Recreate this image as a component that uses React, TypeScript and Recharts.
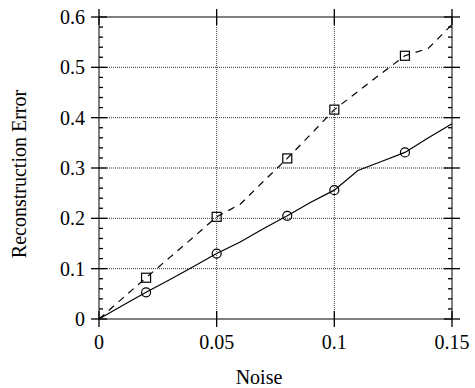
import React from 'react';
import { LineChart, Line, XAxis, YAxis, CartesianGrid } from 'recharts';

// noise level (x) and reconstruction error of the two series
const noise = [0, 0.01, 0.02, 0.03, 0.04, 0.05, 0.06, 0.07, 0.08, 0.09, 0.1, 0.11, 0.12, 0.13, 0.14, 0.15];
const circleErr = [0, 0.027, 0.053, 0.078, 0.104, 0.13, 0.153, 0.18, 0.205, 0.232, 0.256, 0.295, 0.313, 0.331, 0.36, 0.388];
const squareErr = [0, 0.041, 0.082, 0.122, 0.162, 0.203, 0.228, 0.274, 0.319, 0.367, 0.416, 0.452, 0.488, 0.523, 0.538, 0.585];
const markerNoise = [0.02, 0.05, 0.08, 0.1, 0.13];

const xTicks = [0, 0.05, 0.1, 0.15];
const yTicks = [0, 0.02, 0.04, 0.06, 0.08, 0.1, 0.12, 0.14, 0.16, 0.18, 0.2, 0.22, 0.24, 0.26, 0.28, 0.3,
  0.32, 0.34, 0.36, 0.38, 0.4, 0.42, 0.44, 0.46, 0.48, 0.5, 0.52, 0.54, 0.56, 0.58, 0.6];
const xGrid = [0.05, 0.1];
const yGrid = [0.1, 0.2, 0.3, 0.4, 0.5];

const data = noise.map((n, i) => ({ noise: n, circle: circleErr[i], square: squareErr[i] }));

const FONT = 'Liberation Serif';
const INK = '#000';

const isMajorY = (v: number) => Math.abs(v * 10 - Math.round(v * 10)) < 1e-6;
const fmt = (v: number) => (v === 0 ? '0' : String(v));

const leftTick = (props: any) => {
  const { x, y, payload } = props;
  const v = payload.value;
  const major = isMajorY(v);
  return (
    <g>
      <path d={major ? `M${x - 8},${y}H${x + 8}` : `M${x},${y}H${x + 4}`} stroke={INK} strokeWidth={1.3} fill="none" />
      {major && (
        <text x={x - 14} y={y + 7} textAnchor="end" fontFamily={FONT} fontSize={20} fill={INK}>{fmt(v)}</text>
      )}
    </g>
  );
};

const rightTick = (props: any) => {
  const { x, y, payload } = props;
  const major = isMajorY(payload.value);
  return (
    <path d={major ? `M${x - 8},${y}H${x + 8}` : `M${x - 4},${y}H${x}`} stroke={INK} strokeWidth={1.3} fill="none" />
  );
};

const bottomTick = (props: any) => {
  const { x, y, payload } = props;
  return (
    <g>
      <path d={`M${x},${y - 8}V${y + 8}`} stroke={INK} strokeWidth={1.3} fill="none" />
      <text x={x} y={y + 30} textAnchor="middle" fontFamily={FONT} fontSize={20} fill={INK}>{fmt(payload.value)}</text>
    </g>
  );
};

const topTick = (props: any) => {
  const { x, y } = props;
  return <path d={`M${x},${y - 8}V${y + 8}`} stroke={INK} strokeWidth={1.3} fill="none" />;
};

const squareDot = (props: any) => {
  const { cx, cy, payload, index } = props;
  if (!markerNoise.includes(payload.noise)) return <g key={index} />;
  return <rect key={index} x={cx - 4.5} y={cy - 4.5} width={9} height={9} fill="none" stroke={INK} strokeWidth={1.2} strokeDasharray="none" />;
};

const circleDot = (props: any) => {
  const { cx, cy, payload, index } = props;
  if (!markerNoise.includes(payload.noise)) return <g key={index} />;
  return <circle key={index} cx={cx} cy={cy} r={4.5} fill="none" stroke={INK} strokeWidth={1.2} />;
};

const noiseLabel = () => (
  <text x={259} y={384} textAnchor="middle" fontFamily={FONT} fontSize={20} fill={INK}>Noise</text>
);

const errorLabel = () => (
  <text transform="translate(26,174) rotate(-90)" textAnchor="middle" fontFamily={FONT} fontSize={20} fill={INK}>
    Reconstruction Error
  </text>
);

export default function App() {
  return (
    <div style={{ position: 'absolute', left: 0, top: 0, width: 475, height: 388, background: '#fff' }}>
      <LineChart width={475} height={388} data={data} margin={{ top: 16, right: 22, bottom: 0, left: 0 }}>
        <CartesianGrid horizontalValues={yGrid} verticalValues={xGrid} stroke="#333" strokeDasharray="1 1" />
        <XAxis
          dataKey="noise" type="number" domain={[0, 0.15]} ticks={xTicks} height={69}
          tickSize={0} tickMargin={0} stroke={INK} tick={bottomTick} label={{ content: noiseLabel }}
        />
        <XAxis
          xAxisId="t" orientation="top" dataKey="noise" type="number" domain={[0, 0.15]} ticks={xTicks} height={1}
          tickSize={0} tickMargin={0} stroke={INK} tick={topTick}
        />
        <YAxis
          type="number" domain={[0, 0.6]} ticks={yTicks} width={99} interval={0}
          tickSize={0} tickMargin={0} stroke={INK} tick={leftTick} label={{ content: errorLabel }}
        />
        <YAxis
          yAxisId="r" orientation="right" type="number" domain={[0, 0.6]} ticks={yTicks} width={1} interval={0}
          tickSize={0} tickMargin={0} stroke={INK} tick={rightTick}
        />
        <Line
          xAxisId="t" yAxisId="r" dataKey="square" stroke={INK} strokeWidth={1.2} strokeDasharray="7 6"
          dot={squareDot} activeDot={false} isAnimationActive={false}
        />
        <Line
          dataKey="circle" stroke={INK} strokeWidth={1.2}
          dot={circleDot} activeDot={false} isAnimationActive={false}
        />
      </LineChart>
    </div>
  );
}
